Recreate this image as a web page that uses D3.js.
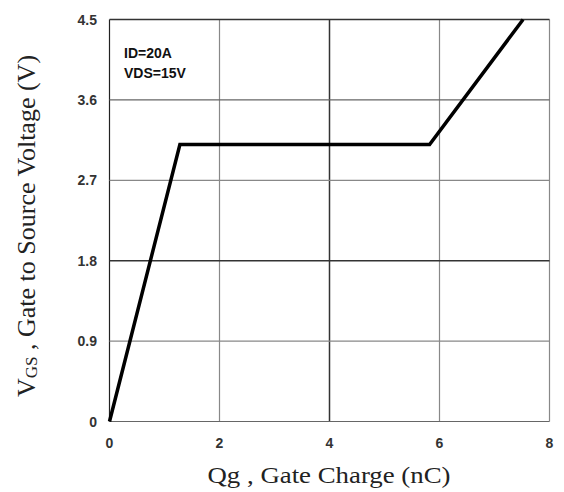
<html>
<head>
    <script src="https://d3js.org/d3.v7.min.js"></script>
</head>
<body style="margin:0;background:white">
    <svg id="chart" width="564" height="492"></svg>
    <script>
        // gate charge curve
        const qg = [0, 1.28, 5.82, 7.52]
        const vgs = [0, 3.1, 3.1, 4.5]
        const xTicks = [0, 2, 4, 6, 8]
        const yTicks = [0, 0.9, 1.8, 2.7, 3.6, 4.5]
        const notes = ["ID=20A", "VDS=15V"]

        const svg = d3.select("#chart")
        const x = d3.scaleLinear().domain([0, 8]).range([109.5, 549.5])
        const y = d3.scaleLinear().domain([0, 4.5]).range([421.5, 19.5])

        // grid
        svg.selectAll("line.vgrid").data(xTicks)
            .join("line")
            .attr("x1", d => x(d)).attr("x2", d => x(d))
            .attr("y1", y(0)).attr("y2", y(4.5))
            .style("stroke", d => d == 4 ? "#333" : (d == 0 ? "#222" : "#888"))
            .style("stroke-width", d => d == 4 ? 1.5 : 1.2)

        svg.selectAll("line.hgrid").data(yTicks)
            .join("line")
            .attr("x1", x(0)).attr("x2", x(8))
            .attr("y1", d => y(d)).attr("y2", d => y(d))
            .style("stroke", d => (d == 1.8 || d == 4.5) ? "#333" : (d == 3.6 || d == 0 ? "#666" : "#888"))
            .style("stroke-width", d => (d == 1.8 || d == 4.5) ? 1.5 : 1.2)

        // tick labels
        svg.selectAll("text.xt").data(xTicks)
            .join("text")
            .attr("x", d => x(d)).attr("y", 448)
            .attr("text-anchor", "middle")
            .style("font", "bold 14px 'Liberation Sans', Arial, sans-serif")
            .style("fill", "#333")
            .text(d => d)

        svg.selectAll("text.yt").data(yTicks)
            .join("text")
            .attr("x", 97).attr("y", d => y(d) + 5)
            .attr("text-anchor", "end")
            .style("font", "bold 14px 'Liberation Sans', Arial, sans-serif")
            .style("fill", "#333")
            .text(d => d)

        // curve
        const pts = qg.map((q, i) => [q, vgs[i]])
        svg.append("path").datum(pts)
            .attr("d", d3.line().x(d => x(d[0])).y(d => y(d[1])))
            .style("fill", "none")
            .style("stroke", "black")
            .style("stroke-width", 3.5)
            .style("stroke-linejoin", "miter")

        // conditions
        svg.selectAll("text.note").data(notes)
            .join("text")
            .attr("x", 124).attr("y", (d, i) => 58 + i * 20)
            .style("font", "bold 14px 'Liberation Sans', Arial, sans-serif")
            .style("fill", "#111")
            .text(d => d)

        // axis titles
        svg.append("text")
            .attr("x", 329).attr("y", 483)
            .attr("text-anchor", "middle")
            .attr("textLength", 243)
            .attr("lengthAdjust", "spacingAndGlyphs")
            .style("font", "24px 'Liberation Serif', 'Times New Roman', serif")
            .style("fill", "#222")
            .text("Qg , Gate Charge (nC)")

        const yt = svg.append("text")
            .attr("transform", "translate(35,226) rotate(-90)")
            .attr("text-anchor", "middle")
            .style("font", "26px 'Liberation Serif', 'Times New Roman', serif")
            .style("fill", "#222")
        yt.append("tspan").text("V")
        yt.append("tspan").attr("dy", 2).style("font-size", "17px").text("GS")
        yt.append("tspan").attr("dy", -2).text(" , Gate to Source Voltage (V)")
    </script>
</body>
</html>
